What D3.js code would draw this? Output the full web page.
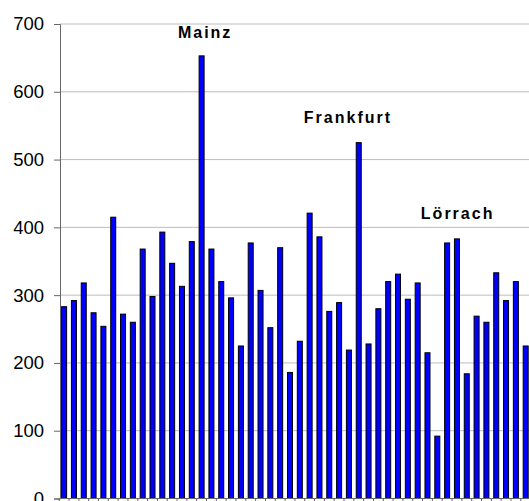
<!DOCTYPE html>
<html>
<head>
    <script type="text/javascript" src="https://d3js.org/d3.v7.min.js"></script>
</head>
<body style="margin:0;">

<style type="text/css">
    svg { display: block; background: #ffffff; }
    .ticklab { font-family: "Liberation Sans", Arial, sans-serif; font-size: 18.5px; fill: #000; }
    .callout { font-family: "Liberation Sans", Arial, sans-serif; font-size: 16px; font-weight: bold; letter-spacing: 2px; fill: #000; }
</style>

<script type="text/javascript">
// one bar per city, city names not shown on the axis
var cities = d3.range(1, 49);
var values = [283, 292, 318, 274, 254, 415, 272, 260, 368, 298,
              393, 347, 313, 379, 653, 368, 320, 296, 225, 377,
              307, 252, 370, 186, 232, 421, 386, 276, 289, 219,
              525, 228, 280, 320, 331, 294, 318, 215, 92, 377,
              383, 184, 269, 260, 333, 292, 320, 225];
var yTicks = [0, 100, 200, 300, 400, 500, 600, 700];

// callouts: text, position in category units, height in data units
var calloutText = ["Mainz", "Frankfurt", "L\u00f6rrach"];
var calloutPos = [14.36, 28.9, 40.07];
var calloutVal = [680, 554, 413];

var chartW = 529, chartH = 501;
var padLeft = 60, padTop = 24, baseY = 498.5;

var svg = d3.select("body").append("svg")
    .attr("width", chartW)
    .attr("height", chartH);

var x = d3.scaleBand()
    .domain(cities)
    .range([59.2, 530.6])
    .paddingInner(0.49)
    .paddingOuter(0.245);

var y = d3.scaleLinear()
    .domain([0, 700])
    .range([baseY, padTop]);

// category index -> band centre
var xc = d3.scaleLinear()
    .domain([0, cities.length - 1])
    .range([x(cities[0]) + x.bandwidth() / 2, x(cities[cities.length - 1]) + x.bandwidth() / 2]);

// gridlines
svg.append("g").selectAll("line")
    .data(yTicks.slice(1))
    .enter().append("line")
    .attr("x1", padLeft)
    .attr("x2", chartW)
    .attr("y1", function(d){ return y(d); })
    .attr("y2", function(d){ return y(d); })
    .attr("stroke", "#bdbdbd")
    .attr("stroke-width", 1);

// bars
svg.append("g").selectAll("rect")
    .data(values)
    .enter().append("rect")
    .attr("x", function(d,i){ return x(cities[i]); })
    .attr("y", function(d){ return y(d); })
    .attr("width", x.bandwidth())
    .attr("height", function(d){ return y(0) - y(d); })
    .style("fill", "#0000ff")
    .attr("stroke", "#000")
    .attr("stroke-width", 1);

// y axis
var yAxis = svg.append("g")
    .attr("transform", "translate(" + padLeft + ",0)")
    .call(d3.axisLeft(y).tickValues(yTicks).tickSize(6).tickPadding(10).tickFormat(d3.format("d")));
yAxis.select(".domain").attr("stroke", "#666");
yAxis.selectAll(".tick line").attr("stroke", "#666");
yAxis.selectAll("text").attr("class", "ticklab").attr("font-size", null).attr("font-family", null);
yAxis.attr("font-size", null).attr("font-family", null);

// x axis: line with small ticks between categories
var xAxis = svg.append("g")
    .attr("transform", "translate(0," + baseY + ")");
xAxis.append("line")
    .attr("x1", padLeft).attr("x2", chartW)
    .attr("stroke", "#666");
xAxis.selectAll("line.tk")
    .data(cities)
    .enter().append("line")
    .attr("class", "tk")
    .attr("x1", function(d){ return x(d) - x.step() * x.paddingInner() / 2; })
    .attr("x2", function(d){ return x(d) - x.step() * x.paddingInner() / 2; })
    .attr("y1", 0).attr("y2", 5)
    .attr("stroke", "#666");

// callout labels
svg.append("g").selectAll("text")
    .data(calloutText)
    .enter().append("text")
    .attr("class", "callout")
    .attr("text-anchor", "middle")
    .attr("x", function(d,i){ return xc(calloutPos[i]); })
    .attr("y", function(d,i){ return y(calloutVal[i]); })
    .text(function(d){ return d; });
</script>

</body>
</html>
